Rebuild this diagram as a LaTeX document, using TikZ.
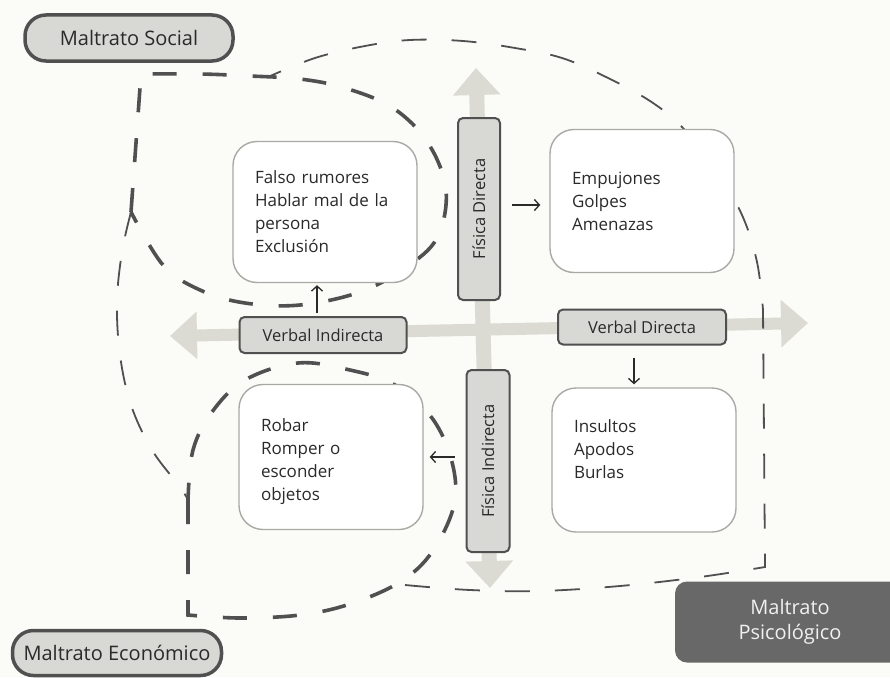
\documentclass[tikz,border=0pt]{standalone}
\usepackage{fontspec}
\setmainfont{Open Sans}
\usetikzlibrary{arrows.meta,positioning,calc}

\definecolor{paper}{HTML}{FBFBF8}
\definecolor{axisgray}{HTML}{DBDBD3}
\definecolor{tabgray}{HTML}{D8D8D5}
\definecolor{rimgray}{HTML}{505050}
\definecolor{inkgray}{HTML}{2A2A2A}
\definecolor{psigray}{HTML}{686868}
\definecolor{boxrim}{HTML}{A9A9A6}

\tikzset{
  axisarrow/.style={draw=axisgray, line width=#1, >={Triangle[width=46pt,length=27pt]}, <->},
  thickdash/.style={draw=rimgray, line width=3.6pt, dash pattern=on 24pt off 26pt},
  thindash/.style={draw=rimgray, line width=1.8pt, dash pattern=on 25pt off 25pt},
  pill/.style={draw=rimgray, line width=3.5pt, fill=tabgray, rounded corners=21pt, inner sep=0pt,
    text=inkgray, font=\fontsize{20}{23}\selectfont},
  psibox/.style={fill=psigray, rounded corners=12pt, text=white!94!black, align=center,
    minimum width=230pt, minimum height=81pt, font=\fontsize{20}{25}\selectfont},
  itembox/.style={draw=boxrim, line width=1.4pt, fill=white, rounded corners=24pt, align=left,
    text width=140pt, inner xsep=22pt, minimum height=#1, text=inkgray,
    font=\fontsize{17}{23}\selectfont},
  tab/.style={draw=rimgray, line width=2pt, fill=tabgray, rounded corners=5pt, inner sep=0pt,
    text=inkgray, font=\fontsize{16.5}{19}\selectfont},
  flecha/.style={draw=inkgray, line width=1.3pt, -{Straight Barb[length=5pt,width=11pt]}}
}

\begin{document}
\begin{tikzpicture}[x=1pt,y=-1pt]
\clip (0,0) rectangle (890,677);
\fill[paper] (0,0) rectangle (890,677);

% ejes
\coordinate (ejeW) at (170,336);
\coordinate (ejeE) at (808,323);
\coordinate (ejeN) at (476,68);
\coordinate (ejeS) at (490,588);
\draw[axisarrow=12pt] (ejeW) -- (ejeE);
\draw[axisarrow=15pt] (ejeN) -- (ejeS);

% maltrato psicologico
\draw[thindash] plot[smooth,tension=0.6] coordinates {(131,212) (122,252) (117,302) (120,355) (131,405) (152,450) (180,487) (188,500)};
\draw[thindash] plot[smooth,tension=0.6] coordinates {(405,585) (470,590) (540,591) (620,586) (700,577) (765,567)}
  -- (763,310) -- plot[smooth,tension=0.6] coordinates {(763,310) (757,262) (742,215) (715,168) (682,127) (650,101) (606,77) (562,58) (515,48) (463,41) (410,40) (365,46) (315,58) (268,77)};

% maltrato social
\draw[thickdash] (131,212) -- (141,74) -- plot[smooth,tension=0.6] coordinates {(141,74) (200,74) (250,76) (300,79) (345,88) (393,108) (428,143) (446,190) (437,238) (405,268) (360,292) (300,305) (245,303) (200,290) (163,265) (131,212)};

% maltrato economico
\draw[thickdash] (188,500) -- (188,615) -- plot[smooth,tension=0.6] coordinates {(188,615) (240,618) (300,615) (350,604) (400,582) (432,552) (454,505) (452,462) (432,418) (395,385) (350,370) (298,363) (245,380) (212,412) (193,450) (188,500)};

\node[pill, minimum width=208pt, minimum height=46pt] (social) at (129,38) {Maltrato Social};
\node[pill, minimum width=209pt, minimum height=45pt] (economico) at (117,653) {Maltrato Económico};
\node[psibox] (psico) at (790,622) {Maltrato\\Psicológico};

\node[itembox=141pt] (rumores) at (325,212) {Falso rumores\\Hablar mal de la\\persona\\Exclusión};
\node[itembox=143pt] (golpes) at (642,201) {Empujones\\Golpes\\Amenazas};
\node[itembox=145pt, text height=23pt] (robar) at (331,457) {Robar\\Romper o\\esconder\\objetos};
\node[itembox=144pt, text depth=67pt] (insultos) at (644,460) {Insultos\\Apodos\\Burlas};

\node[tab, minimum width=167pt, minimum height=36pt] (verbind) at (323,335) {Verbal Indirecta};
\node[tab, minimum width=168pt, minimum height=35pt] (verbdir) at (642,327) {Verbal Directa};
\node[tab, rotate=90, minimum width=182pt, minimum height=42pt] (fisdir) at (479,209) {Física Directa};
\node[tab, rotate=90, minimum width=182pt, minimum height=43pt] (fisind) at (488,461) {Física Indirecta};

\draw[flecha, shorten <=3pt, shorten >=2pt] (verbind.north -| 317,0) -- (rumores.south -| 317,0);
\draw[flecha, shorten <=12pt, shorten >=3pt] (verbdir.south -| 634,0) -- (insultos.north -| 634,0);
\draw[flecha, shorten <=11pt, shorten >=9pt] (fisdir.south |- 0,205) -- (golpes.west |- 0,205);
\draw[flecha, shorten <=11pt, shorten >=6pt] (fisind.north |- 0,457) -- (robar.east |- 0,457);

\end{tikzpicture}
\end{document}
